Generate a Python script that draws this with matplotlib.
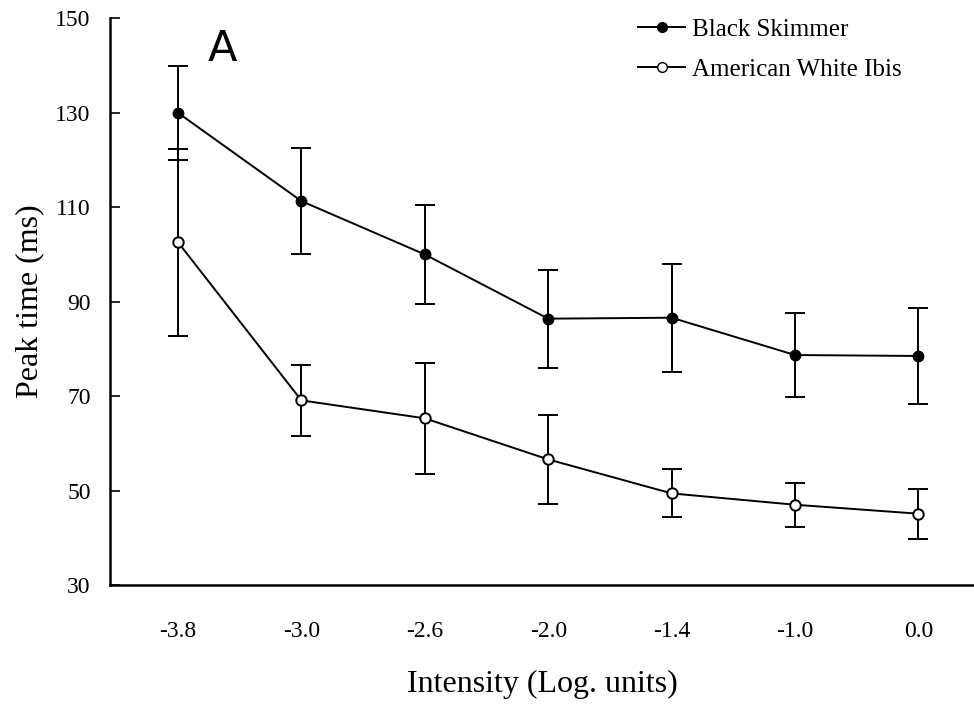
import matplotlib.pyplot as plt
from matplotlib.lines import Line2D
import numpy as np

plt.rcParams['font.family'] = ['Liberation Serif', 'DejaVu Serif']

intensity = ["-3.8", "-3.0", "-2.6", "-2.0", "-1.4", "-1.0", "0.0"]
skimmer = [130.0, 111.3, 100.0, 86.4, 86.6, 78.7, 78.5]
skimmer_err = [10.0, 11.2, 10.4, 10.4, 11.4, 8.9, 10.2]
ibis = [102.6, 69.1, 65.3, 56.6, 49.4, 47.0, 45.1]
ibis_err = [19.8, 7.5, 11.7, 9.5, 5.1, 4.7, 5.3]

x = np.arange(len(intensity))

fig = plt.figure(figsize=(9.74, 7.04), dpi=100)
ax = fig.add_axes([0.113, 0.169, 0.887, 0.805])

ax.errorbar(x, skimmer, yerr=skimmer_err, color="black", lw=1.4,
            marker="o", ms=7.5, mfc="black", mec="black",
            capsize=7, capthick=1.4, elinewidth=1.4)
ax.errorbar(x, ibis, yerr=ibis_err, color="black", lw=1.4,
            marker="o", ms=7.5, mfc="white", mec="black", mew=1.4,
            capsize=7, capthick=1.4, elinewidth=1.4)

ax.set_xlim(-0.55, 6.45)
ax.set_ylim(30, 150)
ax.set_yticks([30, 50, 70, 90, 110, 130, 150])
ax.set_xticks(x)
ax.set_xticklabels(intensity)
ax.tick_params(axis="y", direction="in", length=7, width=1.2, labelsize=17, pad=14)
ax.tick_params(axis="x", length=0, labelsize=17, pad=26)

ax.spines["top"].set_visible(False)
ax.spines["right"].set_visible(False)
ax.spines["left"].set_linewidth(1.8)
ax.spines["bottom"].set_linewidth(1.8)

ax.set_ylabel("Peak time (ms)", fontsize=23, labelpad=8)
ax.set_xlabel("Intensity (Log. units)", fontsize=23, labelpad=20)

fig.text(0.228, 0.93, "A", fontsize=31, family="DejaVu Sans", ha="center", va="center")

handles = [
    Line2D([], [], color="black", lw=1.4, marker="o", ms=7, mfc="black", mec="black"),
    Line2D([], [], color="black", lw=1.4, marker="o", ms=7, mfc="white", mec="black"),
]
ax.legend(handles, ["Black Skimmer", "American White Ibis"],
          loc="upper left", bbox_to_anchor=(0.637, 0.999), bbox_transform=fig.transFigure,
          frameon=False, fontsize=18, handlelength=1.9, handletextpad=0.25,
          labelspacing=0.72, borderaxespad=0.3)

plt.savefig("out.png", dpi=100)
